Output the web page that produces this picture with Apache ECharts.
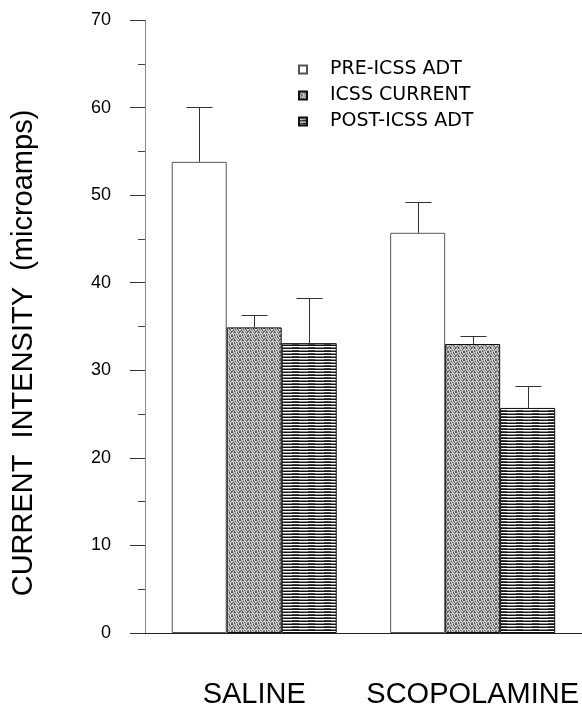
<!DOCTYPE html>
<html>
<head>
<meta charset="utf-8">
<script src="https://cdn.jsdelivr.net/npm/echarts@6/dist/echarts.min.js"></script>
<style>
html,body{margin:0;padding:0;background:#fff;}
#chart{width:582px;height:709px;}
</style>
</head>
<body>
<div id="chart"></div>
<script>
// ---- data ----
const categories = ['SALINE', 'SCOPOLAMINE'];
const seriesNames = ['PRE-ICSS ADT', 'ICSS CURRENT', 'POST-ICSS ADT'];
const preMean = [53.8, 45.7];
const preErrTop = [60.1, 49.2];
const icssMean = [34.9, 33.0];
const icssErrTop = [36.3, 33.9];
const postMean = [33.1, 25.7];
const postErrTop = [38.3, 28.2];
const yTicks = [0, 10, 20, 30, 40, 50, 60, 70];
const yTitle = 'CURRENT  INTENSITY  (microamps)';

// ---- styling helpers ----
const BAR_W = 55;

function stipplePattern() {
  const c = document.createElement('canvas');
  c.width = 8; c.height = 8;
  const ctx = c.getContext('2d');
  ctx.fillStyle = '#d2d2d2';
  ctx.fillRect(0, 0, 8, 8);
  for (let y = 0; y < 8; y++) {
    for (let x = 0; x < 8; x++) {
      const v = (x * 3 + y * 5 + (x * y) % 3) % 7;
      if (v < 2) { ctx.fillStyle = '#5a5a5a'; ctx.fillRect(x, y, 1, 1); }
      else if (v < 4) { ctx.fillStyle = '#a0a0a0'; ctx.fillRect(x, y, 1, 1); }
    }
  }
  return c;
}
function linePattern() {
  const c = document.createElement('canvas');
  c.width = 16; c.height = 3;
  const ctx = c.getContext('2d');
  ctx.fillStyle = '#ffffff';
  ctx.fillRect(0, 0, 16, 3);
  ctx.fillStyle = '#151515'; ctx.fillRect(0, 0, 16, 1);
  ctx.fillStyle = '#8a8a8a'; ctx.fillRect(0, 2, 16, 1);
  ctx.fillStyle = '#444'; ctx.fillRect(4, 2, 7, 1);
  return c;
}

const fills = [
  '#ffffff',
  { image: stipplePattern(), repeat: 'repeat' },
  { image: linePattern(), repeat: 'repeat' }
];
const borders = ['#555', '#111', '#111'];
const means = [preMean, icssMean, postMean];
const tops = [preErrTop, icssErrTop, postErrTop];

const chart = echarts.init(document.getElementById('chart'), null, { renderer: 'canvas' });

const barSeries = seriesNames.map((name, i) => ({
  name: name,
  type: 'bar',
  data: means[i],
  barWidth: BAR_W,
  barGap: '0%',
  itemStyle: { color: fills[i], borderColor: borders[i], borderWidth: 1 },
  emphasis: { disabled: true },
  z: 2
}));

const errSeries = seriesNames.map((name, i) => ({
  name: name + ' err',
  type: 'custom',
  z: 3,
  silent: true,
  data: categories.map((c, k) => [k, means[i][k], tops[i][k]]),
  renderItem: function (params, api) {
    const k = api.value(0);
    const base = api.coord([k, api.value(1)]);
    const tip = api.coord([k, api.value(2)]);
    const x = Math.round(base[0] + (i - 1) * BAR_W) + 0.5;
    const yt = Math.round(tip[1]) + 0.5;
    return {
      type: 'group',
      children: [
        { type: 'line', shape: { x1: x, y1: base[1], x2: x, y2: yt }, style: { stroke: '#333', lineWidth: 1 } },
        { type: 'line', shape: { x1: x - 13, y1: yt, x2: x + 13, y2: yt }, style: { stroke: '#333', lineWidth: 1 } }
      ]
    };
  }
}));

chart.setOption({
  animation: false,
  backgroundColor: '#ffffff',
  grid: { left: 145, right: 0, top: 20, bottom: 74, containLabel: false },
  legend: {
    data: seriesNames,
    orient: 'vertical',
    left: 293,
    top: 55,
    itemWidth: 8,
    itemHeight: 8,
    itemGap: 7,
    icon: 'rect',
    selectedMode: false,
    textStyle: { fontFamily: 'DejaVu Sans', fontSize: 19, color: '#000', lineHeight: 17.5, padding: [0, 0, 0, 18] }
  },
  xAxis: {
    type: 'category',
    data: categories,
    boundaryGap: true,
    axisLine: { show: true, lineStyle: { color: '#222', width: 1 } },
    axisTick: { show: false },
    axisLabel: { interval: 0, hideOverlap: false, margin: 47, fontFamily: 'Liberation Sans', fontSize: 29, color: '#000' },
    splitLine: { show: false }
  },
  yAxis: {
    type: 'value',
    min: yTicks[0],
    max: yTicks[yTicks.length - 1],
    interval: 10,
    axisLine: { show: true, lineStyle: { color: '#888', width: 1 } },
    axisTick: { show: true, length: 15, lineStyle: { color: '#333' } },
    minorTick: { show: true, splitNumber: 2, length: 7, lineStyle: { color: '#444' } },
    axisLabel: { margin: 34, fontFamily: 'Liberation Sans', fontSize: 18, color: '#000' },
    splitLine: { show: false },
    minorSplitLine: { show: false }
  },
  graphic: [{
    type: 'text',
    x: 24,
    y: 353,
    rotation: Math.PI / 2,
    style: {
      text: yTitle,
      font: '29px "Liberation Sans"',
      fill: '#000',
      align: 'center',
      verticalAlign: 'middle'
    }
  }],
  series: barSeries.concat(errSeries)
});
</script>
</body>
</html>
